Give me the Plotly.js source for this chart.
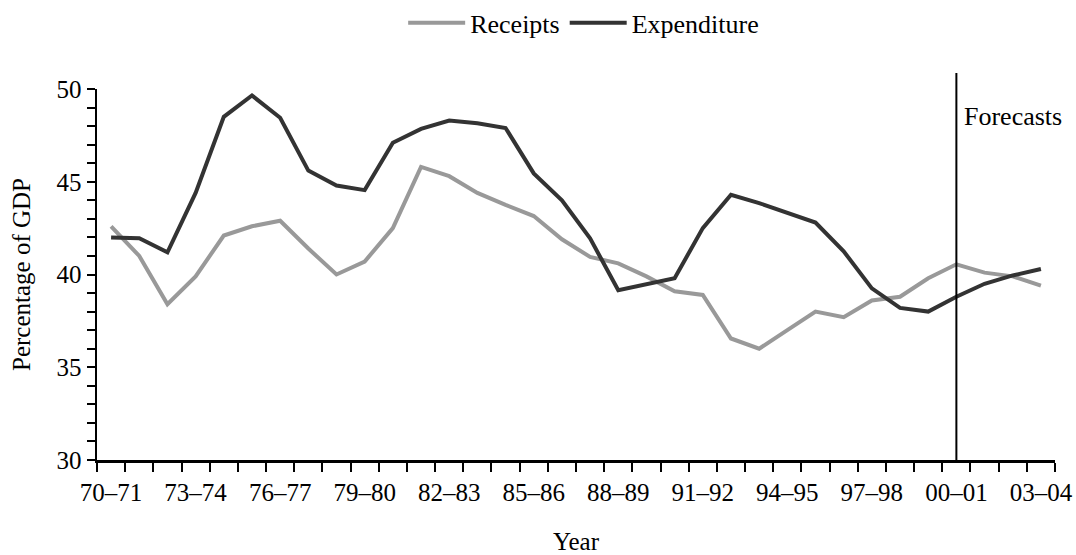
<!DOCTYPE html>
<html>
<head>
<meta charset="utf-8">
<script src="https://cdn.plot.ly/plotly-3.0.1.min.js"></script>
<style>
  html, body { margin: 0; padding: 0; background: #fff; }
  #chart { width: 1076px; height: 555px; }
</style>
</head>
<body>
<div id="chart"></div>
<script>
const categories = ["70–71","71–72","72–73","73–74","74–75","75–76","76–77","77–78","78–79","79–80",
  "80–81","81–82","82–83","83–84","84–85","85–86","86–87","87–88","88–89","89–90",
  "90–91","91–92","92–93","93–94","94–95","95–96","96–97","97–98","98–99","99–00",
  "00–01","01–02","02–03","03–04"];
const receipts = [42.6, 41.0, 38.4, 39.9, 42.1, 42.6, 42.9, 41.4, 40.0, 40.7,
  42.5, 45.8, 45.3, 44.4, 43.75, 43.15, 41.9, 40.95, 40.6, 39.9,
  39.1, 38.9, 36.55, 36.0, 37.0, 38.0, 37.7, 38.6, 38.8, 39.8,
  40.55, 40.1, 39.9, 39.4];
const expenditure = [42.0, 41.95, 41.2, 44.4, 48.5, 49.65, 48.45, 45.6, 44.8, 44.55,
  47.1, 47.85, 48.3, 48.15, 47.9, 45.45, 44.0, 41.95, 39.15, 39.5,
  39.8, 42.5, 44.3, 43.85, 43.3, 42.8, 41.25, 39.25, 38.2, 38.0,
  38.8, 39.5, 39.95, 40.3];
const labelledTicks = ["70–71","73–74","76–77","79–80","82–83","85–86","88–89","91–92","94–95","97–98","00–01","03–04"];
const forecastStart = "00–01";
const seriesNames = ["Receipts", "Expenditure"];

const FONT = "Liberation Serif, Times New Roman, serif";
const tickText = categories.map(c => labelledTicks.includes(c) ? c : "");

const traces = [
  { x: categories, y: receipts, name: seriesNames[0], type: "scatter", mode: "lines",
    line: { color: "#999999", width: 4 } },
  { x: categories, y: expenditure, name: seriesNames[1], type: "scatter", mode: "lines",
    line: { color: "#333333", width: 4 } }
];

const layout = {
  width: 1076, height: 555,
  margin: { l: 97, r: 21, t: 89, b: 95, autoexpand: false },
  paper_bgcolor: "#fff", plot_bgcolor: "#fff",
  font: { family: FONT, size: 25, color: "#000" },
  showlegend: true,
  legend: { orientation: "h", x: 0.508, xanchor: "center", y: 1.178, yanchor: "middle",
    font: { family: FONT, size: 26, color: "#000" }, itemwidth: 57, tracegroupgap: 0 },
  xaxis: {
    type: "category",
    range: [-0.5, categories.length - 0.5],
    tickmode: "array", tickvals: categories, ticktext: tickText,
    tickson: "boundaries", tickangle: 0, ticklabelstandoff: 8,
    ticks: "outside", ticklen: 9, tickwidth: 2, tickcolor: "#000",
    showline: true, linecolor: "#000", linewidth: 2.5,
    showgrid: false, zeroline: false, automargin: false,
    tickfont: { family: FONT, size: 25, color: "#000" },
    title: { text: "Year", font: { family: FONT, size: 25, color: "#000" }, standoff: 28 }
  },
  yaxis: {
    range: [30, 50], dtick: 5, tick0: 30,
    ticks: "outside", ticklen: 8, tickwidth: 2, tickcolor: "#000",
    minor: { dtick: 1, ticks: "outside", ticklen: 8, tickwidth: 2, tickcolor: "#000", showgrid: false },
    showline: true, linecolor: "#000", linewidth: 2.5,
    showgrid: false, zeroline: false, automargin: false,
    tickfont: { family: FONT, size: 25, color: "#000" },
    title: { text: "Percentage of GDP", font: { family: FONT, size: 25, color: "#000" }, standoff: 19 }
  },
  shapes: [
    { type: "line", xref: "x", yref: "paper", x0: forecastStart, x1: forecastStart, y0: 0, y1: 1.043,
      xshift: -3, line: { color: "#000", width: 2 } }
  ],
  annotations: [
    { xref: "x", yref: "paper", x: forecastStart, y: 0.927, xanchor: "left", yanchor: "middle",
      xshift: 6, showarrow: false, text: "Forecasts",
      font: { family: FONT, size: 26, color: "#000" } }
  ]
};

Plotly.newPlot("chart", traces, layout, { displayModeBar: false, staticPlot: true });
</script>
</body>
</html>
